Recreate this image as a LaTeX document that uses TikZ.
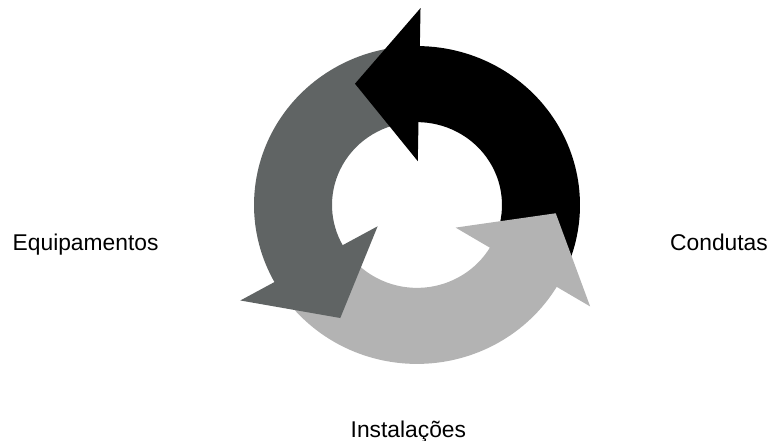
\documentclass[tikz,border=0pt]{standalone}
\usepackage{fontspec}
\setmainfont{Liberation Sans}
\definecolor{cycdark}{RGB}{96,100,100}
\definecolor{cyclight}{RGB}{179,179,179}
\begin{document}
\begin{tikzpicture}[x=1pt,y=1pt,
  lbl/.style={inner sep=0pt, anchor=base west, font=\fontsize{22.8}{27}\selectfont}]
\useasboundingbox (0,0) rectangle (769,-441);
% ring radii and arrow geometry
\def\rin{85}
\def\rout{163}
\begin{scope}[shift={(417,-205)}, yscale=0.975]
  % curved bodies: each runs 114 degrees back from its head
  \foreach \b/\c in {89/black, 329/cyclight, 209/cycdark}{
    \fill[\c] ({\b-114}:\rin) arc[start angle={\b-114}, end angle={\b+0.5}, radius=\rin]
      -- ({\b+0.5}:\rout) arc[start angle={\b+0.5}, end angle={\b-114}, radius=\rout] -- cycle;
  }
  % arrowheads, laid over the tail of the following arrow
  \foreach \b/\c in {89/black, 329/cyclight, 209/cycdark}{
    \fill[\c] (\b:45) -- (\b:202) -- ({\b+27.5}:139) -- cycle;
  }
\end{scope}
\node[lbl] (equip) at (12.5,-250.7) {Equipamentos};
\node[lbl, anchor=base east] (cond) at (768,-251) {Condutas};
\node[lbl] (inst) at (350.5,-437.3) {Instalações};
\end{tikzpicture}
\end{document}
